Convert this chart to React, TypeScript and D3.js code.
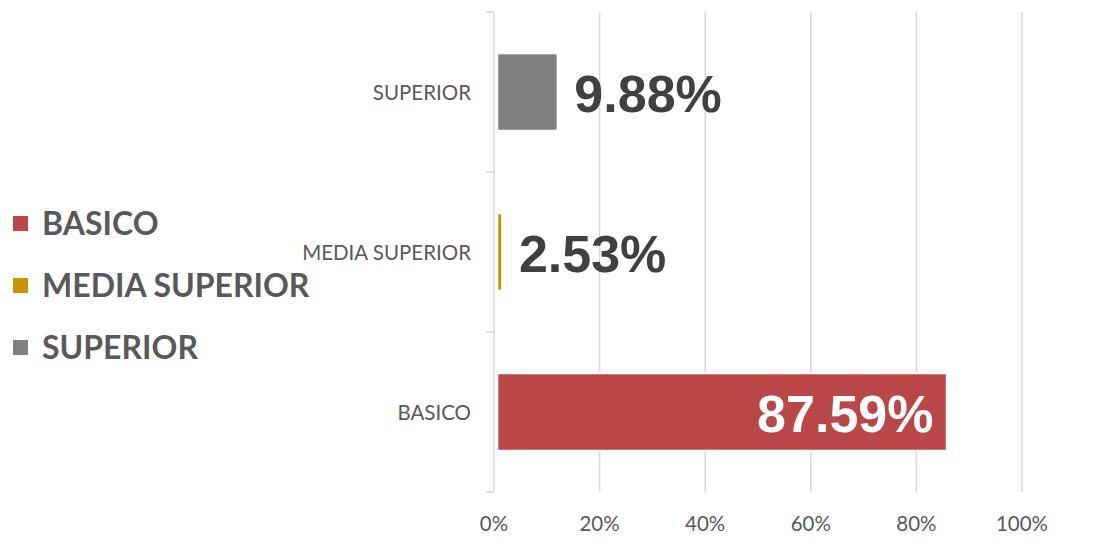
import React from "react";
import * as d3 from "d3";

const categories = ["SUPERIOR", "MEDIA SUPERIOR", "BASICO"];
const barValues = [12.0, 1.5, 85.7];
const valueLabels = ["9.88%", "2.53%", "87.59%"];
const colors = ["#808080", "#C79500", "#BA4747"];
const legendItems = ["BASICO", "MEDIA SUPERIOR", "SUPERIOR"];
const legendColors = ["#BA4747", "#C79500", "#808080"];
const xTicks = [0, 20, 40, 60, 80, 100];

const W = 1095;
const H = 559;

export default function App() {
  const x = d3.scaleLinear().domain([0, 100]).range([494, 1022]);
  const y = d3.scaleBand().domain(categories).range([12, 492]).paddingInner(0).paddingOuter(0);
  const bandCenter = (c: string) => (y(c) as number) + y.bandwidth() / 2;
  const barH = 77;
  const gap = 3.5;
  const grid = "#D9D9D9";
  const calibri = "Lato, 'Open Sans', sans-serif";
  const arial = "'Liberation Sans', Arial, sans-serif";
  const legendY = d3.scalePoint().domain(legendItems).range([223, 347]);
  const catTicks = [...categories.map((c) => y(c) as number), 492];

  return (
    <svg width={W} height={H} style={{ position: "absolute", left: 0, top: 0, background: "#fff" }}>
      {xTicks.slice(1).map((t) => (
        <line key={"g" + t} x1={x(t)} x2={x(t)} y1={12} y2={492} stroke={grid} strokeWidth={1.5} />
      ))}
      <line x1={x(0)} x2={x(0)} y1={12} y2={492} stroke={grid} strokeWidth={1.5} />
      {catTicks.map((t, i) => (
        <line key={"t" + i} x1={x(0) - 8} x2={x(0)} y1={t} y2={t} stroke={grid} strokeWidth={1.5} />
      ))}
      {categories.map((c, i) => (
        <rect
          key={"b" + c}
          x={x(0) + gap}
          y={bandCenter(c) - barH / 2}
          width={x(barValues[i]) - x(0) - gap}
          height={barH}
          fill={colors[i]}
          stroke="#fff"
          strokeWidth={1.5}
        />
      ))}
      {categories.map((c) => (
        <text
          key={"c" + c}
          x={471}
          y={bandCenter(c) + 7.5}
          textAnchor="end"
          fontFamily={calibri}
          fontSize={20.5}
          fill="#595959"
        >
          {c}
        </text>
      ))}
      {categories.map((c, i) => {
        const inside = barValues[i] > 50;
        return (
          <text
            key={"v" + c}
            x={inside ? x(barValues[i]) - 13 : x(barValues[i]) + 17}
            y={bandCenter(c) + 19.5}
            textAnchor={inside ? "end" : "start"}
            fontFamily={arial}
            fontWeight="bold"
            fontSize={52}
            fill={inside ? "#FFFFFF" : "#404040"}
          >
            {valueLabels[i]}
          </text>
        );
      })}
      {xTicks.map((t) => (
        <text
          key={"x" + t}
          x={x(t)}
          y={531}
          textAnchor="middle"
          fontFamily={calibri}
          fontSize={20.5}
          fill="#595959"
        >
          {t + "%"}
        </text>
      ))}
      {legendItems.map((l, i) => (
        <g key={"l" + l}>
          <rect x={13} y={(legendY(l) as number) - 7} width={15} height={15} fill={legendColors[i]} />
          <text
            x={42}
            y={(legendY(l) as number) + 11.5}
            fontFamily={calibri}
            fontWeight="bold"
            fontSize={32}
            fill="#595959"
          >
            {l}
          </text>
        </g>
      ))}
    </svg>
  );
}
